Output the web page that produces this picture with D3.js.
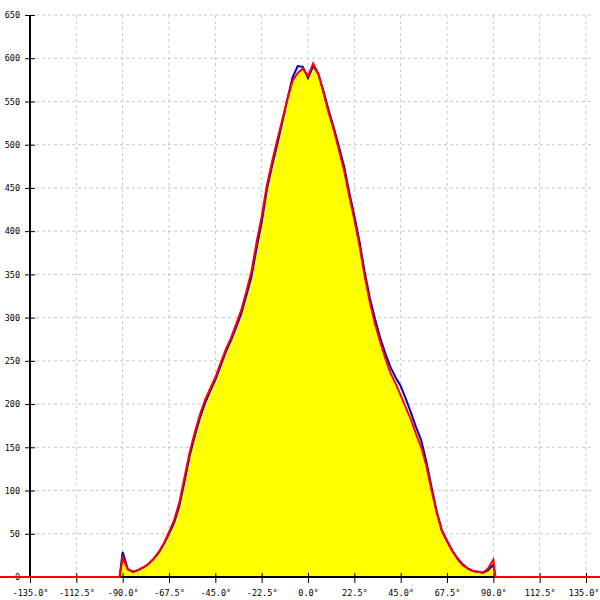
<!DOCTYPE html>
<html><head><meta charset="utf-8">
<script src="https://cdn.jsdelivr.net/npm/d3@7"></script>
<style>body{margin:0;background:#fff}svg{display:block}</style>
</head><body><svg id="c" width="600" height="600"></svg>
<script>
const angles = [-180,-91.5,-90,-87.5,-85,-82.5,-80,-77.5,-75,-72.5,-70,-67.5,-65,-62.5,-60,-57.5,-55,-52.5,-50,-47.5,-45,-42.5,-40,-37.5,-35,-32.5,-30,-27.5,-25,-22.5,-20,-17.5,-15,-12.5,-10,-7.5,-5,-2.5,0,2.5,5,7.5,10,12.5,15,17.5,20,22.5,25,27.5,30,32.5,35,37.5,40,42.5,45,47.5,50,52.5,55,57.5,60,62.5,65,67.5,70,72.5,75,77.5,80,82.5,85,87.5,90,91,180];
const blueValues = [0,0,29,9,6,8,11,15,21,28,38,50,63,82,110,140,163,184,201,215,228,244,260,273,288,304,325,347,380,410,448,475,500,526,553,578,591,590,577,591,582,562,540,520,498,475,445,418,388,353,323,299,277,259,243,231,221,206,190,173,158,133,104,76,54,42,31,22,15,10,7,6,5,8,14,0,0];
const redValues  = [0,0,22,9,6,8,11,15,21,29,39,52,66,86,115,144,167,188,205,218,231,247,263,276,292,308,330,353,387,417,453,480,505,529,553,574,583,588,579,594,582,560,537,517,494,470,441,413,383,348,318,293,272,253,236,224,210,196,182,165,150,128,100,74,53,41,30,21,14,10,7,6,5,10,20,0,0];
const xTicks = [-135,-112.5,-90,-67.5,-45,-22.5,0,22.5,45,67.5,90,112.5,135];
const yTicks = [0,50,100,150,200,250,300,350,400,450,500,550,600,650];

const svg = d3.select("#c");
const x = d3.scaleLinear().domain([-135,135]).range([30,586]);
const y = d3.scaleLinear().domain([0,650]).range([577,15]);
const font = "DejaVu Sans Mono, monospace";

// grid
svg.append("g").selectAll("line").data(xTicks).join("line")
  .attr("x1", d => x(d)).attr("x2", d => x(d)).attr("y1", y(650)).attr("y2", y(0))
  .attr("stroke", "#c8c8c8").attr("stroke-dasharray", "3,3");
svg.append("g").selectAll("line").data(yTicks.filter(d => d > 0)).join("line")
  .attr("x1", x(-135)).attr("x2", 592).attr("y1", d => y(d)).attr("y2", d => y(d))
  .attr("stroke", "#c8c8c8").attr("stroke-dasharray", "3,3");

const pts = angles.map((a, i) => ({a, b: blueValues[i], r: redValues[i]}));

// fill under red
svg.append("path").datum(pts)
  .attr("d", d3.area().x(d => x(d.a)).y0(y(0)).y1(d => y(d.r)))
  .attr("fill", "#ffff00");

// axes
const yAxis = svg.append("g").attr("transform", `translate(${x(-135)},0)`)
  .call(d3.axisLeft(y).tickValues(yTicks).tickSize(5).tickPadding(5).tickFormat(d3.format("d")));
yAxis.selectAll(".tick line").attr("x2", 5).attr("x1", -5).attr("stroke", "#000");
const xAxis = svg.append("g").attr("transform", `translate(0,${y(0)})`)
  .call(d3.axisBottom(x).tickValues(xTicks).tickSize(6).tickPadding(7).tickFormat(d => d3.format(".1f")(d).replace("−","-") + "°"));
xAxis.selectAll(".tick line").attr("y1", -4).attr("y2", 6).attr("stroke", "#000");
[yAxis, xAxis].forEach(g => {
  g.select(".domain").attr("stroke", "#000").attr("stroke-width", 2);
  g.selectAll("text").attr("font-family", font).attr("font-size", "8.5px").attr("fill", "#000");
});
xAxis.selectAll(".tick").filter(d => d === 135).select("text")
  .attr("text-anchor", "end").attr("x", 599 - x(135));
xAxis.select(".domain").attr("d", `M${x(-135)},0H${x(135)}`);
yAxis.select(".domain").attr("d", `M0,${y(650)}V${y(0)}`);

// lines
const lineB = d3.line().x(d => x(d.a)).y(d => y(d.b));
const lineR = d3.line().x(d => x(d.a)).y(d => y(d.r));
svg.append("path").datum(pts).attr("d", lineB).attr("fill", "none").attr("stroke", "#0000c0").attr("stroke-width", 2);
svg.append("path").datum(pts).attr("d", lineR).attr("fill", "none").attr("stroke", "#ff0000").attr("stroke-width", 2);
</script></body></html>
